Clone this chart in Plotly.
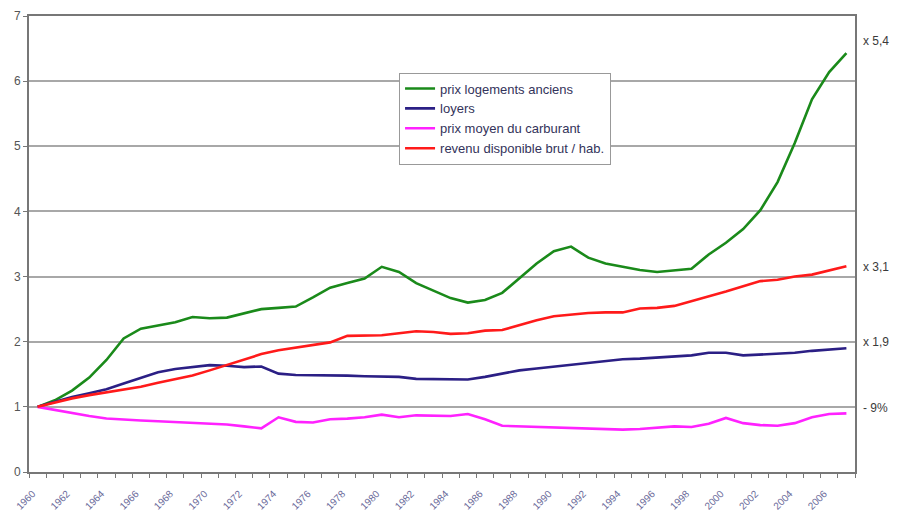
import plotly.graph_objects as go

years = list(range(1960, 2008))

logements = [1.00, 1.10, 1.25, 1.45, 1.72, 2.05, 2.20, 2.25, 2.30, 2.38,
             2.36, 2.37, 2.44, 2.50, 2.52, 2.54, 2.68, 2.83, 2.90, 2.97,
             3.15, 3.07, 2.90, 2.78, 2.67, 2.60, 2.64, 2.75, 2.98, 3.20,
             3.39, 3.46, 3.29, 3.20, 3.15, 3.10, 3.07, 3.09, 3.12, 3.34,
             3.52, 3.73, 4.02, 4.45, 5.05, 5.72, 6.14, 6.43]

loyers = [1.00, 1.08, 1.15, 1.21, 1.27, 1.36, 1.44, 1.53, 1.58, 1.61,
          1.64, 1.63, 1.61, 1.62, 1.51, 1.49, 1.49, 1.49, 1.48, 1.47,
          1.47, 1.46, 1.43, 1.43, 1.43, 1.42, 1.46, 1.51, 1.56, 1.59,
          1.62, 1.64, 1.68, 1.71, 1.73, 1.74, 1.76, 1.77, 1.79, 1.83,
          1.83, 1.79, 1.80, 1.81, 1.83, 1.86, 1.88, 1.90]

carburant = [1.00, 0.95, 0.90, 0.86, 0.82, 0.80, 0.79, 0.78, 0.77, 0.76,
             0.75, 0.73, 0.70, 0.67, 0.84, 0.77, 0.76, 0.81, 0.82, 0.84,
             0.88, 0.84, 0.87, 0.86, 0.86, 0.89, 0.81, 0.71, 0.70, 0.69,
             0.69, 0.68, 0.67, 0.65, 0.65, 0.66, 0.68, 0.70, 0.69, 0.74,
             0.83, 0.75, 0.72, 0.71, 0.75, 0.84, 0.89, 0.90]

revenu = [1.00, 1.07, 1.13, 1.18, 1.22, 1.26, 1.31, 1.37, 1.42, 1.48,
          1.56, 1.64, 1.72, 1.81, 1.87, 1.91, 1.95, 1.99, 2.09, 2.10,
          2.10, 2.13, 2.16, 2.15, 2.12, 2.13, 2.17, 2.18, 2.26, 2.33,
          2.39, 2.42, 2.44, 2.45, 2.45, 2.51, 2.52, 2.55, 2.62, 2.70,
          2.77, 2.85, 2.93, 2.95, 3.00, 3.03, 3.09, 3.16]

series_names = ["prix logements anciens", "loyers",
                "prix moyen du carburant", "revenu disponible brut / hab."]
series_colors = ["#1a8a1a", "#2b1f85", "#ff22ff", "#ff1a1a"]
series_values = [logements, loyers, carburant, revenu]

annot_texts = ["x 5,4", "x 3,1", "x 1,9", "- 9%"]
annot_y = [6.62, 3.15, 2.0, 0.98]

label_years = list(range(1960, 2008, 2))

fig = go.Figure()
for name, col, vals in zip(series_names, series_colors, series_values):
    fig.add_trace(go.Scatter(x=years, y=vals, mode="lines", name=name,
                             line=dict(color=col, width=2.6)))

for t, yv in zip(annot_texts, annot_y):
    fig.add_annotation(x=1.0, xref="paper", y=yv, yref="y", text=t,
                       showarrow=False, xanchor="left", xshift=6,
                       font=dict(family="Liberation Sans, Arial", size=12,
                                 color="#3a3a3a"))

# page body has an 8px margin: figure is sized/margined to compensate
fig.update_layout(
    width=893, height=515,
    margin=dict(l=21, r=46, t=8, b=51, autoexpand=False),
    paper_bgcolor="white", plot_bgcolor="white",
    font=dict(family="Liberation Sans, Arial", color="#555555"),
    showlegend=True,
    legend=dict(x=0.448, y=0.876, xanchor="left", yanchor="top",
                bgcolor="white", bordercolor="#999999", borderwidth=1,
                font=dict(size=13, color="#33335a"),
                tracegroupgap=0, itemwidth=30),
    xaxis=dict(range=[1959.5, 2007.5], tickmode="array",
               tickvals=label_years, ticktext=[str(y) for y in label_years],
               tickangle=-45, ticks="", showgrid=False, automargin=False,
               showline=True, linecolor="#777777", linewidth=2,
               mirror=True, zeroline=False, ticklabelstandoff=10,
               ticklabelshift=-5,
               tickfont=dict(size=10, color="#6a6a9a"),
               minor=dict(ticks="outside", tick0=1959.5, dtick=1,
                          ticklen=4, tickcolor="#777777", showgrid=False)),
    yaxis=dict(range=[0, 7], dtick=1, tick0=0, ticks="outside", ticklen=4,
               tickcolor="#777777", showgrid=True, gridcolor="#a8a8a8",
               gridwidth=2, showline=True, linecolor="#777777",
               linewidth=2, mirror=True, zeroline=False, automargin=False,
               tickfont=dict(size=12, color="#555555")),
)

fig.write_html("out.html")
